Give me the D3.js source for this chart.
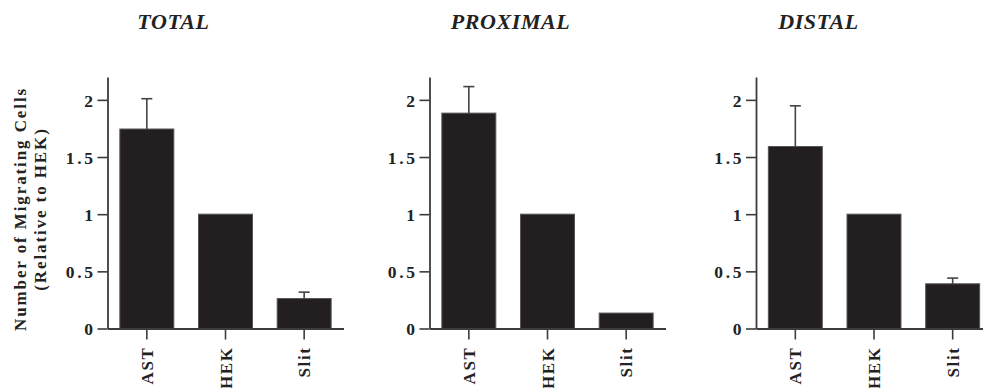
<!DOCTYPE html>
<html>
<head>
<meta charset="utf-8">
<script src="https://cdn.jsdelivr.net/npm/d3@7"></script>
<style>
  html, body { margin: 0; padding: 0; background: #fff; }
  svg { display: block; }
  text { font-family: "Liberation Serif", "DejaVu Serif", serif; font-weight: bold; fill: #222; }
</style>
</head>
<body>
<svg id="chart" width="983" height="388"></svg>
<script>
// ---- data ----
const categories = ["AST", "HEK", "Slit"];
const panelTitles = ["TOTAL", "PROXIMAL", "DISTAL"];
const totalValues = [1.745, 1.0, 0.262];
const totalErrors = [0.265, 0, 0.056];
const proximalValues = [1.884, 1.0, 0.135];
const proximalErrors = [0.232, 0, 0];
const distalValues = [1.592, 1.0, 0.391];
const distalErrors = [0.356, 0, 0.05];
const yTicks = [0, 0.5, 1, 1.5, 2];
const yTickLabels = ["0", "0.5", "1", "1.5", "2"];
const yLabelLines = ["Number of Migrating Cells", "(Relative to HEK)"];

const panelValues = [totalValues, proximalValues, distalValues];
const panelErrors = [totalErrors, proximalErrors, distalErrors];

// ---- layout ----
const svg = d3.select("#chart");
const axisX = [107.5, 429.5, 756];
const titleCx = [173, 510, 818];
const plotW = 236;
const y = d3.scaleLinear().domain([0, 2.2]).range([328.5, 77]);

const axisColor = "#3c3c3c";
const barFill = "#231f20";

panelTitles.forEach((title, p) => {
  const g = svg.append("g");
  const x = d3.scaleBand().domain(categories)
    .range([axisX[p], axisX[p] + plotW])
    .paddingInner(0.314).paddingOuter(0.157);

  // title
  svg.append("text")
    .attr("x", titleCx[p] + 0.5).attr("y", 28.5)
    .attr("text-anchor", "middle")
    .style("font-style", "italic")
    .style("font-size", "22px")
    .style("letter-spacing", "0.6px")
    .text(title);

  // bars
  const vals = panelValues[p], errs = panelErrors[p];
  g.selectAll("rect.bar").data(categories).join("rect")
    .attr("class", "bar")
    .attr("x", d => x(d))
    .attr("width", x.bandwidth())
    .attr("y", (d, i) => y(vals[i]))
    .attr("height", (d, i) => y(0) - y(vals[i]))
    .attr("fill", barFill)
    .attr("stroke", "#555")
    .attr("stroke-width", 1);

  // error bars (upper only)
  categories.forEach((c, i) => {
    if (errs[i] <= 0) return;
    const cx = x(c) + x.bandwidth() / 2;
    g.append("line")
      .attr("x1", cx).attr("x2", cx)
      .attr("y1", y(vals[i])).attr("y2", y(vals[i] + errs[i]))
      .attr("stroke", "#444").attr("stroke-width", 1.6);
    g.append("line")
      .attr("x1", cx - 5.5).attr("x2", cx + 5.5)
      .attr("y1", y(vals[i] + errs[i])).attr("y2", y(vals[i] + errs[i]))
      .attr("stroke", "#444").attr("stroke-width", 1.6);
  });

  // y axis
  const ya = d3.axisLeft(y).tickValues(yTicks)
    .tickFormat((d, i) => yTickLabels[i])
    .tickSize(10).tickSizeOuter(0).tickPadding(2);
  const yg = svg.append("g").attr("transform", `translate(${axisX[p]},0)`).call(ya);
  yg.select(".domain").attr("stroke", axisColor).attr("stroke-width", 1.8);
  yg.selectAll(".tick line").attr("stroke", axisColor).attr("stroke-width", 1.6);
  yg.selectAll(".tick text")
    .style("font-size", "17.5px")
    .style("letter-spacing", "2.6px")
    .attr("fill", "#222")
    .attr("dy", "0.36em");

  // x axis
  const xa = d3.axisBottom(x).tickSize(11).tickSizeOuter(0).tickPadding(7);
  const xg = svg.append("g").attr("transform", `translate(0,${y(0)})`).call(xa);
  xg.select(".domain").attr("stroke", axisColor).attr("stroke-width", 1.8);
  xg.selectAll(".tick line").attr("stroke", axisColor).attr("stroke-width", 1.6);
  xg.selectAll(".tick text")
    .style("font-size", "17px")
    .style("letter-spacing", "1.6px")
    .attr("fill", "#222")
    .attr("text-anchor", "end")
    .attr("transform", "rotate(-90)")
    .attr("x", -18)
    .attr("y", 0)
    .attr("dy", "0.36em");
});

// y label (first panel only)
yLabelLines.forEach((line, i) => {
  svg.append("text")
    .attr("transform", `translate(${26 + i * 20},209) rotate(-90)`)
    .attr("text-anchor", "middle")
    .style("font-size", "17px")
    .style("letter-spacing", "1.9px")
    .text(line);
});
</script>
</body>
</html>
